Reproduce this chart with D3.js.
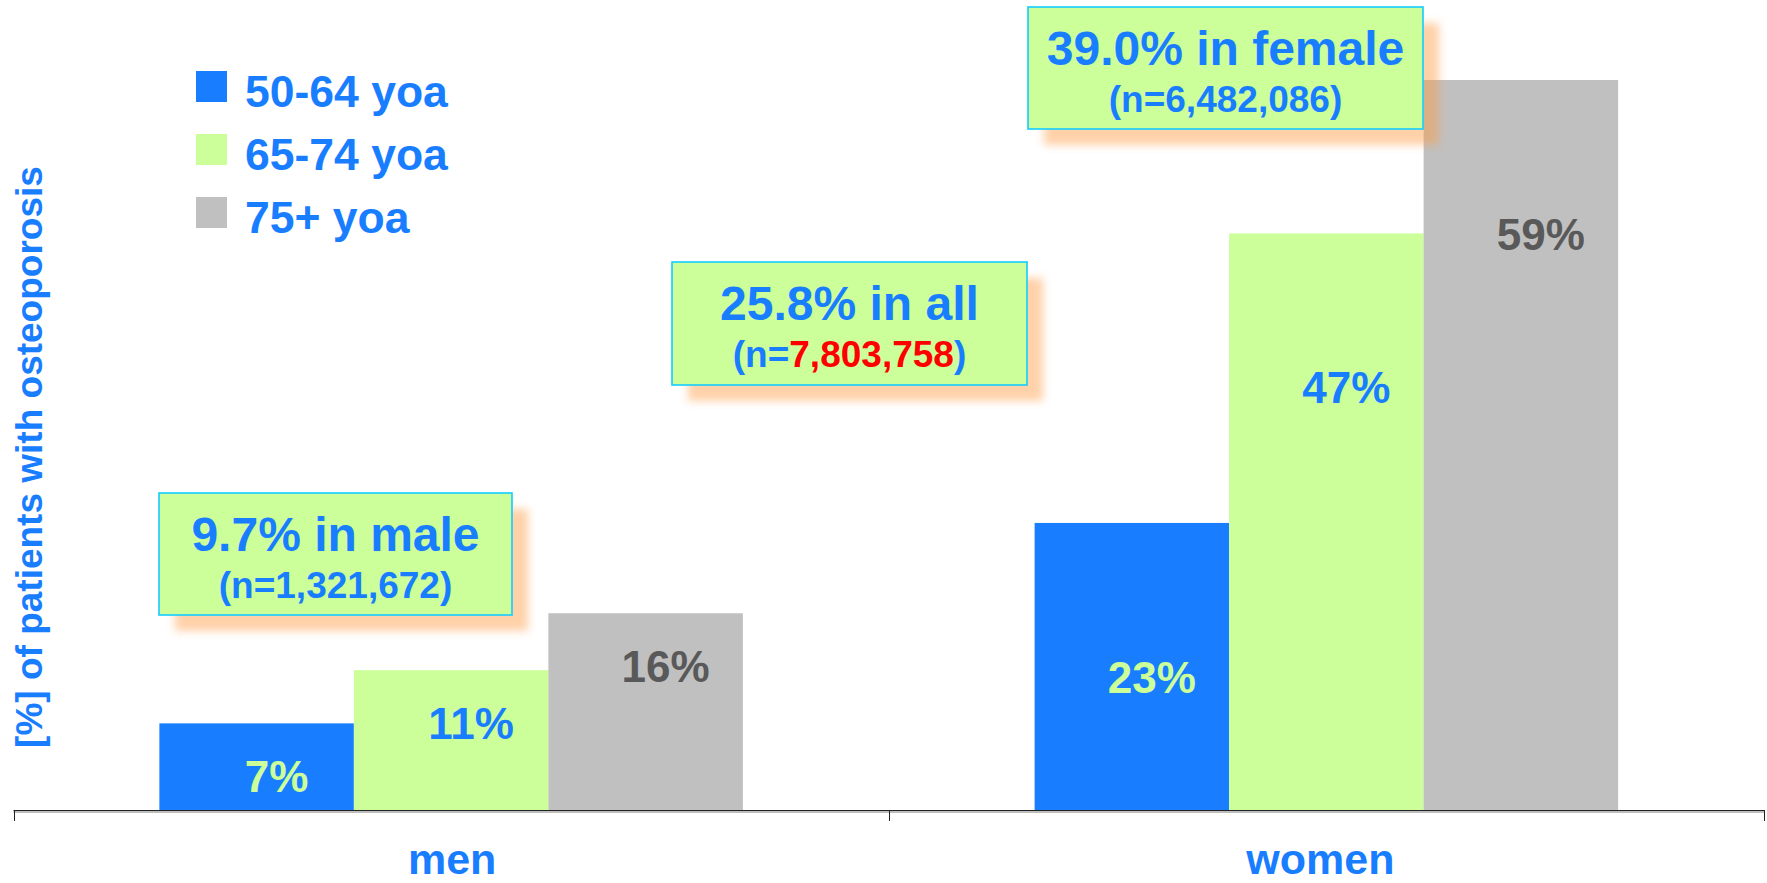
<!DOCTYPE html>
<html>
<head>
<meta charset="utf-8">
<script src="https://cdn.jsdelivr.net/npm/d3@7"></script>
<style>
  html, body { margin: 0; padding: 0; background: #fff; }
  svg text { font-family: "Liberation Sans", Arial, sans-serif; font-weight: bold; }
</style>
</head>
<body>
<svg id="chart" width="1767" height="883"></svg>
<script>
// data
var categories = ["men", "women"];
var groups = ["50-64 yoa", "65-74 yoa", "75+ yoa"];
var menValues = [7.0, 11.3, 15.9];
var womenValues = [23.2, 46.6, 59.0];
var summaryTitles = ["9.7% in male", "25.8% in all", "39.0% in female"];
var summaryCounts = ["1,321,672", "7,803,758", "6,482,086"];
var yAxisTitle = "[%] of patients with osteoporosis";

// colors
var blue = "#187EFF";
var barColors = ["#187EFF", "#CCFF99", "#C0C0C0"];
var labelColors = ["#CCFF99", "#187EFF", "#595959"];

// summary box placement
var boxLayout = [
  { x: 159, y: 493, w: 353, h: 122, countColor: blue },
  { x: 672, y: 262, w: 355, h: 123, countColor: "#FF0000" },
  { x: 1028, y: 7, w: 395, h: 122, countColor: blue }
];
var labelDrop = { men: 69, women: 170 }; // label baseline below bar top

var svg = d3.select("#chart");

var x0 = d3.scaleBand().domain(categories).range([13.5, 1764]).padding(0);
var x1 = d3.scaleBand().domain(groups).range([0, x0.bandwidth()])
  .paddingInner(0).paddingOuter(0.75);
var y = d3.scaleLinear().domain([0, 60]).range([810, 67.6]);

var rows = categories.map(function (c, i) {
  return { cat: c, values: [menValues, womenValues][i] };
});

//柱子
var groupG = svg.append("g")
  .selectAll("g")
  .data(rows)
  .enter()
  .append("g")
  .attr("transform", function (d) { return "translate(" + x0(d.cat) + ",0)"; });

groupG.selectAll("rect")
  .data(function (d) {
    return d.values.map(function (v, i) { return { cat: d.cat, key: groups[i], i: i, v: v }; });
  })
  .enter()
  .append("rect")
  .attr("x", function (d) { return x1(d.key); })
  .attr("y", function (d) { return y(d.v); })
  .attr("width", x1.bandwidth())
  .attr("height", function (d) { return y(0) - y(d.v); })
  .attr("fill", function (d) { return barColors[d.i]; });

//柱子上的数字
groupG.selectAll("text")
  .data(function (d) {
    return d.values.map(function (v, i) { return { cat: d.cat, key: groups[i], i: i, v: v }; });
  })
  .enter()
  .append("text")
  .attr("x", function (d) { return x1(d.key) + x1.bandwidth() / 2 + 20; })
  .attr("y", function (d) { return y(d.v) + labelDrop[d.cat]; })
  .attr("text-anchor", "middle")
  .style("font-size", "44px")
  .attr("fill", function (d) { return labelColors[d.i]; })
  .text(function (d) { return d3.format(".0f")(d.v) + "%"; });

// x axis
var base = y(0);
svg.append("line")
  .attr("x1", x0.range()[0]).attr("x2", x0.range()[1])
  .attr("y1", base + 0.5).attr("y2", base + 0.5)
  .attr("stroke", "#222").attr("stroke-width", 1);
svg.append("line")
  .attr("x1", x0.range()[0]).attr("x2", x0.range()[1])
  .attr("y1", base + 2).attr("y2", base + 2)
  .attr("stroke", "#A8A8A8").attr("stroke-width", 1.5);

var bounds = categories.map(function (c) { return x0(c); }).concat([x0.range()[1]]);
svg.append("g")
  .selectAll("line")
  .data(bounds)
  .enter()
  .append("line")
  .attr("x1", function (d) { return Math.round(d) + 0.5; })
  .attr("x2", function (d) { return Math.round(d) + 0.5; })
  .attr("y1", base).attr("y2", base + 11)
  .attr("stroke", "#222").attr("stroke-width", 1);

var xAxis = svg.append("g")
  .attr("transform", "translate(0," + base + ")")
  .call(d3.axisBottom(x0).tickSize(0).tickPadding(0));
xAxis.select(".domain").remove();
xAxis.selectAll("text")
  .attr("dy", null)
  .attr("y", 64)
  .attr("fill", blue)
  .style("font-size", "43px");
// women label sits a little left of its band centre
xAxis.selectAll(".tick text").attr("x", function (d, i) { return i === 1 ? -6 : 1; });

// y axis title
svg.append("text")
  .attr("transform", "translate(41.5,457) rotate(-90)")
  .attr("text-anchor", "middle")
  .attr("fill", blue)
  .style("font-size", "37px")
  .text(yAxisTitle);

// legend
var legend = svg.append("g")
  .selectAll("g")
  .data(groups)
  .enter()
  .append("g")
  .attr("transform", function (d, i) { return "translate(0," + (107 + i * 63) + ")"; });
legend.append("rect")
  .attr("x", 196).attr("y", -36)
  .attr("width", 31).attr("height", 31)
  .attr("fill", function (d, i) { return barColors[i]; });
legend.append("text")
  .attr("x", 245).attr("y", 0)
  .attr("fill", blue)
  .style("font-size", "44.5px")
  .text(function (d) { return d; });

// summary boxes
var defs = svg.append("defs");
defs.append("filter")
  .attr("id", "soft")
  .attr("x", "-20%").attr("y", "-30%")
  .attr("width", "140%").attr("height", "160%")
  .append("feGaussianBlur")
  .attr("stdDeviation", 4);

var boxes = svg.append("g")
  .selectAll("g")
  .data(summaryTitles)
  .enter()
  .append("g")
  .attr("transform", function (d, i) { return "translate(" + boxLayout[i].x + "," + boxLayout[i].y + ")"; });

//阴影
boxes.append("rect")
  .attr("x", 16).attr("y", 16)
  .attr("width", function (d, i) { return boxLayout[i].w; })
  .attr("height", function (d, i) { return boxLayout[i].h; })
  .attr("fill", "#FF9A40")
  .attr("opacity", 0.45)
  .attr("filter", "url(#soft)");

boxes.append("rect")
  .attr("width", function (d, i) { return boxLayout[i].w; })
  .attr("height", function (d, i) { return boxLayout[i].h; })
  .attr("fill", "#CCFF99")
  .attr("stroke", "#12CCFF")
  .attr("stroke-width", 1.6);

boxes.append("text")
  .attr("x", function (d, i) { return boxLayout[i].w / 2; })
  .attr("y", 58)
  .attr("text-anchor", "middle")
  .attr("fill", blue)
  .style("font-size", "48px")
  .text(function (d) { return d; });

var counts = boxes.append("text")
  .attr("x", function (d, i) { return boxLayout[i].w / 2; })
  .attr("y", 105)
  .attr("text-anchor", "middle")
  .attr("fill", blue)
  .style("font-size", "37px");
counts.append("tspan").text("(n=");
counts.append("tspan")
  .attr("fill", function (d, i) { return boxLayout[i].countColor; })
  .text(function (d, i) { return summaryCounts[i]; });
counts.append("tspan").text(")");
</script>
</body>
</html>
